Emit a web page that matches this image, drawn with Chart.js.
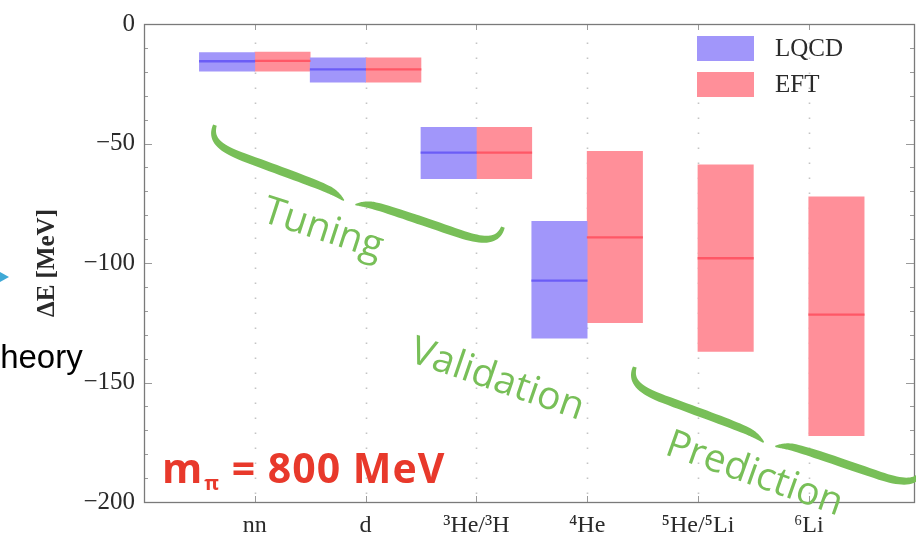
<!DOCTYPE html>
<html>
<head>
<meta charset="utf-8">
<script src="https://cdn.jsdelivr.net/npm/chart.js@4"></script>
<style>
html,body{margin:0;padding:0;background:#fff;}
canvas{display:block;}
</style>
</head>
<body>
<canvas id="chartEnergias" width="916" height="539"></canvas>
<script>
//==================================================
// DATOS (MeV)
//==================================================

const nuclei=["nn","d","³He/³H","⁴He","⁵He/⁵Li","⁶Li"];
const seriesNames=["LQCD","EFT"];

const lqcdLow=[-19.7,-24.3,-64.7,-131.4,null,null];
const lqcdHigh=[-12.0,-14.2,-43.2,-82.6,null,null];
const lqcdMid=[-15.6,-19.0,-53.8,-107.4,null,null];

const eftLow=[-19.7,-24.3,-64.7,-125.0,-137.0,-172.2];
const eftHigh=[-11.8,-14.2,-43.2,-53.3,-58.9,-72.3];
const eftMid=[-15.4,-19.0,-53.8,-89.3,-98.0,-121.6];

const yTicks=[0,-50,-100,-150,-200];

const notes=["Tuning","Validation","Prediction"];

//==================================================
// COLORES
//==================================================

const fillBlue="#a196fa";
const fillRed="#ff8f99";
const lineBlue="#6b5cf6";
const lineRed="#ff5766";
const green="#78bf58";
const serif="'Liberation Serif','Times New Roman',serif";

// anotaciones en unidades de los ejes
const braceEnds=[[0.64,-42.3,3.24,-85.0],[4.43,-143.5,7.03,-186.2]];
const notePos=[[1.05,-82.4,18],[2.38,-141,19],[4.69,-179.9,19.5]];

function band(lo,hi){
  return lo.map((v,i)=>v==null?null:{x:i+1,y:[v,hi[i]]}).filter(Boolean);
}
function centre(m){
  return m.map((v,i)=>v==null?null:{x:i+1,y:[v-0.35,v+0.35]}).filter(Boolean);
}

//==================================================
// LLAVES
//==================================================

function cubic(p0,p1,p2,p3,t){
  const u=1-t;
  return [u*u*u*p0[0]+3*u*u*t*p1[0]+3*u*t*t*p2[0]+t*t*t*p3[0],
          u*u*u*p0[1]+3*u*u*t*p1[1]+3*u*t*t*p2[1]+t*t*t*p3[1]];
}
const halfBrace=[
  [[0,0],[0,0.55],[0.08,0.72],[0.25,0.74]],
  [[0.25,0.74],[0.5,0.76],[0.75,0.76],[0.85,0.82]],
  [[0.85,0.82],[0.9,0.86],[0.93,0.93],[0.96,1.0]]
];
function halfPts(h,d){
  const pts=[];
  halfBrace.forEach((seg,k)=>{
    const s=seg.map(q=>[q[0]*h,q[1]*d]);
    for(let i=(k?1:0);i<=20;i++) pts.push(cubic(s[0],s[1],s[2],s[3],i/20));
  });
  return pts;
}
function taper(ctx,pts,wmax){
  const n=pts.length,L=[],R=[];
  for(let i=0;i<n;i++){
    const a=pts[Math.max(0,i-1)],b=pts[Math.min(n-1,i+1)];
    let tx=b[0]-a[0],ty=b[1]-a[1];
    const m=Math.hypot(tx,ty)||1; tx/=m; ty/=m;
    const s=i/(n-1);
    const w=wmax*Math.pow(Math.sin(Math.PI*(0.12+0.85*s)),0.8)/2;
    L.push([pts[i][0]-ty*w,pts[i][1]+tx*w]);
    R.push([pts[i][0]+ty*w,pts[i][1]-tx*w]);
  }
  ctx.beginPath();
  L.forEach((p,i)=>i?ctx.lineTo(p[0],p[1]):ctx.moveTo(p[0],p[1]));
  R.reverse().forEach(p=>ctx.lineTo(p[0],p[1]));
  ctx.closePath();
  ctx.fill();
}
function drawBrace(ctx,x0,y0,x1,y1,d,wmax){
  const dx=x1-x0,dy=y1-y0,len=Math.hypot(dx,dy);
  ctx.save();
  ctx.translate(x0,y0);
  ctx.rotate(Math.atan2(dy,dx));
  const pts=halfPts(len/2,d);
  taper(ctx,pts,wmax);
  taper(ctx,pts.map(p=>[len-p[0],p[1]]),wmax);
  ctx.restore();
}

//==================================================
// MARCO, REJILLA, LEYENDA Y ANOTACIONES
//==================================================

const frame={
  id:"frame",
  beforeDatasetsDraw(chart){
    const {ctx,chartArea:a,scales:{x}}=chart;
    ctx.save();
    ctx.strokeStyle="#c4c4c4";
    ctx.lineWidth=1.6;
    ctx.setLineDash([1.6,13.4]);
    nuclei.forEach((n,i)=>{
      const px=Math.round(x.getPixelForValue(i+1))+0.5;
      ctx.beginPath();ctx.moveTo(px,a.bottom-8);ctx.lineTo(px,a.top+8);ctx.stroke();
    });
    ctx.restore();
  },
  afterDatasetsDraw(chart){
    const {ctx,chartArea:a,scales:{x,y}}=chart;
    ctx.save();
    ctx.strokeStyle="#9a9a9a";
    ctx.lineWidth=1;
    for(let v=-200;v<=0;v+=10){
      const py=Math.round(y.getPixelForValue(v))+0.5;
      const len=v%50===0?8:4;
      ctx.beginPath();
      ctx.moveTo(a.left,py);ctx.lineTo(a.left+len,py);
      ctx.moveTo(a.right,py);ctx.lineTo(a.right-len,py);
      ctx.stroke();
    }
    nuclei.forEach((n,i)=>{
      const px=Math.round(x.getPixelForValue(i+1))+0.5;
      ctx.beginPath();
      ctx.moveTo(px,a.bottom);ctx.lineTo(px,a.bottom-6);
      ctx.moveTo(px,a.top);ctx.lineTo(px,a.top+6);
      ctx.stroke();
    });
    ctx.strokeStyle="#7a7a7a";
    ctx.lineWidth=1.3;
    ctx.strokeRect(a.left+0.5,a.top+0.5,a.right-a.left,a.bottom-a.top);

    // leyenda
    const fills=[fillBlue,fillRed];
    ctx.font="25px "+serif;
    ctx.textBaseline="middle";
    seriesNames.forEach((s,i)=>{
      const top=a.top+12+i*36;
      ctx.fillStyle=fills[i];
      ctx.fillRect(a.left+553,top,57,25);
      ctx.fillStyle="#2a2a2a";
      ctx.fillText(s,a.left+631,top+13);
    });
    ctx.restore();
  },
  afterDraw(chart){
    const {ctx,chartArea:a,scales:{x,y}}=chart;
    ctx.save();
    ctx.fillStyle=green;
    braceEnds.forEach(b=>{
      drawBrace(ctx,x.getPixelForValue(b[0]),y.getPixelForValue(b[1]),
                    x.getPixelForValue(b[2]),y.getPixelForValue(b[3]),28,8.5);
    });
    ctx.font="39px 'Open Sans',Lato,sans-serif";
    ctx.textBaseline="alphabetic";
    notes.forEach((t,i)=>{
      const p=notePos[i];
      ctx.save();
      ctx.translate(x.getPixelForValue(p[0]),y.getPixelForValue(p[1]));
      ctx.rotate(p[2]*Math.PI/180);
      ctx.fillText(t,0,0);
      ctx.restore();
    });

    // m_pi
    ctx.fillStyle="#e8392b";
    ctx.letterSpacing="1px";
    let px=a.left+18;
    const base=a.bottom-19;
    ctx.font="bold 41px 'Open Sans',sans-serif";
    ctx.fillText("m",px,base);
    px+=ctx.measureText("m").width+1;
    ctx.font="bold 20px 'Open Sans',sans-serif";
    ctx.fillText("π",px,base+7);
    px+=ctx.measureText("π").width;
    ctx.font="bold 41px 'Open Sans',sans-serif";
    ctx.fillText(" = 800 MeV",px,base);
    ctx.letterSpacing="0px";

    // elementos de la diapositiva
    ctx.fillStyle="#000";
    ctx.font="33px 'Liberation Sans',Arial,sans-serif";
    ctx.fillText("Theory",-20,368);
    ctx.fillStyle="#3fa9d6";
    ctx.beginPath();
    ctx.moveTo(-2,271);ctx.lineTo(9,277);ctx.lineTo(-2,283);ctx.closePath();
    ctx.fill();
    ctx.restore();
  }
};

//==================================================
// GRÁFICO
//==================================================

new Chart(document.getElementById("chartEnergias"),{
  type:"bar",
  data:{
    datasets:[
      {label:seriesNames[0]+" centre",stack:"a",data:centre(lqcdMid),backgroundColor:lineBlue},
      {label:seriesNames[1]+" centre",stack:"b",data:centre(eftMid),backgroundColor:lineRed},
      {label:seriesNames[0],stack:"a",data:band(lqcdLow,lqcdHigh),backgroundColor:fillBlue},
      {label:seriesNames[1],stack:"b",data:band(eftLow,eftHigh),backgroundColor:fillRed}
    ]
  },
  options:{
    responsive:false,
    animation:false,
    categoryPercentage:1,
    barPercentage:1,
    layout:{padding:{top:24,right:2,left:0,bottom:0}},
    plugins:{legend:{display:false},tooltip:{enabled:false}},
    scales:{
      x:{
        type:"linear",min:0,max:6.95,offset:false,
        grid:{display:false,drawTicks:false,offset:false},
        border:{display:false},
        afterBuildTicks:s=>{s.ticks=nuclei.map((n,i)=>({value:i+1}));},
        afterFit:s=>{s.height=37;},
        ticks:{callback:v=>nuclei[v-1],autoSkip:false,maxRotation:0,padding:9,color:"#2a2a2a",font:{family:serif,size:24}}
      },
      y:{
        min:-200,max:0,stacked:false,
        grid:{display:false,drawTicks:false},
        border:{display:false},
        afterBuildTicks:s=>{s.ticks=yTicks.map(v=>({value:v}));},
        afterFit:s=>{s.width=144;},
        ticks:{callback:v=>v<0?"\u2212"+(-v):String(v),padding:9,color:"#2a2a2a",font:{family:serif,size:25}},
        title:{display:true,text:"ΔE [MeV]",color:"#2a2a2a",font:{family:serif,size:25,weight:"bold"},padding:{top:33,bottom:0}}
      }
    }
  },
  plugins:[frame]
});
</script>
</body>
</html>
